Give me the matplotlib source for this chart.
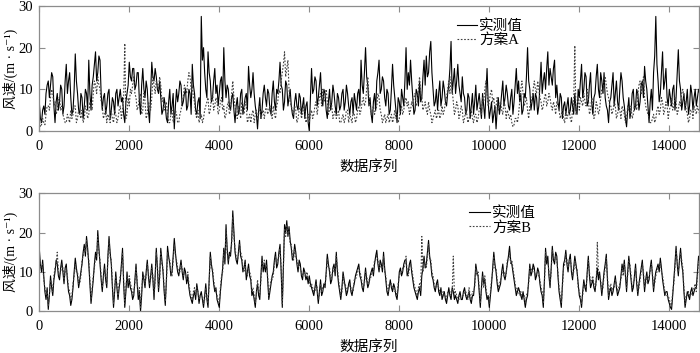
import numpy as np
import matplotlib
matplotlib.use('Agg')
import matplotlib.pyplot as plt

plt.rcParams['font.family'] = ['Liberation Serif', 'Noto Sans CJK SC', 'DejaVu Serif']

# 数据: 每 50 个序列点读一个值 (x = 0, 50, 100, ...)
# 以及两点之间的读数 (x = 25, 75, 125, ...)
passo = 50

medido_a = [
    7, 2, 6, 9, 12, 11, 13, 2, 9, 7, 10, 6, 16, 12, 8, 5, 18.5, 9, 4, 8,
    6, 9, 17, 5, 13, 19, 14, 17, 5, 9, 6, 10, 5, 7, 9, 6, 10, 8, 2, 9,
    16.5, 12, 15, 11, 14, 4, 15, 8, 10, 2, 16.5, 12, 13, 9, 8, 5, 6, 2, 10, 6,
    0.5, 10, 9, 11, 7, 10, 6, 9, 16, 9, 4, 8, 27.5, 20, 10, 19, 12, 8, 15, 11,
    9, 13, 20, 8, 10, 5, 9, 2, 8, 5, 10, 6, 9, 15.5, 8, 14, 6, 0.5, 8, 5,
    11, 6, 9, 4, 12, 5, 9, 16.5, 10, 7, 11, 8, 6, 3, 9, 5, 8, 6, 3, 7,
    0, 15, 10, 12, 8, 14, 6, 9, 3, 10, 7, 9, 4, 8, 6, 10, 7, 9, 4, 8,
    9, 5, 10, 17, 9, 20, 11, 8, 2, 9, 12, 17, 10, 12, 6, 9, 5, 16, 8, 2,
    7, 10, 6, 20, 14, 17, 8, 5, 9, 12, 8, 17, 18, 14, 21.5, 10, 7, 5, 12, 8,
    10, 6, 11, 21.5, 12, 9, 16, 9, 13, 8, 5, 8, 6, 4, 11, 7, 6, 9, 3, 15,
    3, 7, 4, 0.5, 8, 6, 12, 8, 9, 5, 10, 7, 15, 12, 9, 5, 8, 20, 10, 7,
    5, 8, 6, 16.5, 12, 10, 19, 15, 11, 17, 11, 5, 8, 6, 4, 8, 5, 6, 9, 4,
    8, 16, 10, 13, 7, 14, 4, 9, 16, 8, 12, 14, 6, 2, 8, 14, 9, 7, 10, 12,
    6, 1, 8, 5, 10, 6, 9, 7, 12, 15.5, 10, 2, 10, 14, 27.5, 12, 9, 19, 12, 8,
    10, 6, 11, 8, 19.5, 10, 7, 5, 10, 6, 9, 8, 6, 10,
]
medido_a_meio = [
    3, 5, 4, 11, 8, 14, 6, 7, 5, 11, 4, 12, 9, 14, 4, 10, 12, 5, 9, 3,
    10, 5, 9, 11, 16, 12, 18, 9, 8, 4, 9, 3, 8, 4, 10, 8, 7, 4, 7, 11,
    13, 15, 10, 14, 7, 11, 10, 12, 5, 9, 13, 15, 10, 12, 4, 8, 3, 7, 4, 9,
    6, 7, 12, 6, 9, 5, 10, 4, 11, 5, 7, 3, 17, 14, 8, 14, 7, 12, 9, 6,
    12, 7, 12, 11, 6, 8, 5, 6, 4, 9, 4, 8, 5, 11, 10, 9, 4, 5, 3, 9,
    8, 10, 5, 9, 7, 10, 12, 11, 5, 12, 6, 10, 4, 7, 6, 9, 4, 8, 6, 2,
    8, 9, 13, 6, 11, 8, 10, 5, 7, 5, 11, 6, 9, 5, 9, 5, 11, 6, 7, 4,
    7, 9, 6, 11, 14, 13, 6, 4, 7, 5, 14, 9, 13, 8, 10, 4, 10, 11, 5, 8,
    4, 8, 12, 10, 11, 12, 4, 10, 6, 7, 13, 11, 13, 19, 14, 6, 10, 9, 6, 12,
    7, 9, 15, 9, 15, 12, 11, 7, 9, 4, 9, 3, 9, 7, 5, 9, 3, 6, 9, 7,
    5, 2, 6, 5, 4, 9, 6, 11, 6, 8, 4, 11, 9, 7, 4, 9, 13, 12, 5, 9,
    9, 4, 11, 9, 14, 15, 11, 13, 15, 8, 7, 9, 3, 7, 6, 4, 8, 4, 5, 10,
    12, 8, 14, 6, 11, 7, 8, 13, 10, 14, 9, 8, 5, 7, 11, 6, 12, 5, 14, 8,
    3, 5, 3, 9, 5, 10, 5, 11, 8, 12, 6, 7, 5, 18, 16, 7, 14, 10, 15, 6,
    8, 10, 5, 14, 12, 5, 9, 7, 4, 11, 5, 10, 8, 9,
]

plano_a = [
    3, 1.5, 2, 4, 6, 8, 9, 7, 5, 8, 6, 3, 2, 3, 5, 4, 6, 3, 4, 5,
    3, 5, 4, 6, 9, 11, 13, 10, 6, 4, 2, 3, 5, 2, 4, 3, 6, 5, 21, 4,
    6, 9, 13, 8, 6, 9, 5, 7, 4, 6, 8, 11, 12, 10, 11, 8, 6, 4, 2, 5,
    3, 4, 2, 5, 8, 10, 12, 13, 11, 7, 3, 2, 4, 3, 6, 8, 5, 9, 6, 7,
    5, 8, 6, 4, 7, 5, 12, 6, 3, 5, 7, 4, 6, 3, 2, 5, 4, 3, 6, 4,
    3, 6, 5, 4, 6, 3, 7, 9, 14, 19, 15, 10, 6, 4, 5, 3, 6, 4, 5, 3,
    2, 5, 4, 7, 6, 9, 10, 8, 7, 5, 6, 4, 3, 5, 2, 4, 3, 5, 4, 2,
    4, 3, 6, 5, 8, 7, 13, 6, 5, 4, 6, 8, 4, 3, 2, 4, 3, 2, 5, 4,
    3, 6, 5, 8, 7, 5, 6, 9, 7, 13, 8, 6, 5, 7, 4, 3, 5, 4, 3, 6,
    5, 8, 12, 13, 7, 5, 6, 4, 5, 3, 4, 3, 5, 2, 4, 3, 6, 8, 10, 9,
    7, 10, 8, 6, 5, 7, 4, 6, 5, 3, 2, 1.5, 3, 4, 10, 9, 7, 5, 6, 8,
    12, 9, 10, 7, 6, 9, 7, 8, 5, 6, 7, 5, 4, 3, 5, 4, 3, 5, 20.5, 6,
    5, 7, 9, 6, 8, 5, 7, 4, 6, 5, 10, 12, 11, 8, 6, 5, 6, 4, 5, 6,
    4, 3, 5, 6, 4, 7, 9, 12, 11, 8, 5, 3, 2, 4, 3, 6, 5, 7, 5, 6,
    5, 8, 6, 7, 5, 6, 10, 7, 4, 3, 5, 6, 4, 5,
]
plano_a_meio = [
    1, 3, 1.5, 6, 5, 10, 6, 4, 8, 5, 4, 2, 4, 2, 3, 6, 2, 5, 3, 2,
    6, 3, 7, 5, 12, 9, 11, 7, 3, 5, 4, 2, 3, 5, 2, 5, 3, 8, 3, 8,
    10, 11, 9, 5, 8, 4, 9, 3, 7, 5, 13, 9, 11, 13, 7, 5, 7, 2, 4, 2,
    5, 2, 4, 7, 11, 9, 14, 10, 8, 4, 5, 3, 2, 5, 7, 4, 8, 5, 8, 4,
    7, 5, 3, 6, 4, 9, 8, 4, 6, 3, 5, 7, 2, 4, 4, 2, 5, 4, 3, 5,
    5, 4, 6, 3, 4, 6, 10, 12, 16, 13, 17, 7, 5, 6, 2, 5, 3, 6, 2, 4,
    4, 3, 6, 4, 8, 6, 7, 10, 4, 7, 3, 5, 4, 2, 3, 2, 5, 2, 3, 5,
    2, 5, 4, 7, 6, 10, 8, 4, 6, 5, 9, 5, 2, 4, 3, 2, 4, 3, 3, 2,
    5, 4, 7, 6, 4, 7, 8, 6, 10, 9, 5, 7, 4, 5, 2, 4, 3, 5, 4, 4,
    7, 10, 9, 10, 4, 7, 3, 6, 2, 5, 2, 4, 3, 4, 2, 5, 4, 7, 12, 6,
    9, 7, 5, 8, 6, 5, 7, 3, 4, 4, 1, 3, 2, 7, 12, 6, 8, 3, 7, 10,
    10, 12, 8, 5, 8, 6, 9, 6, 7, 4, 6, 3, 5, 2, 3, 5, 2, 7, 4, 8,
    8, 6, 7, 10, 4, 8, 3, 7, 4, 8, 9, 13, 9, 6, 4, 7, 3, 6, 3, 5,
    2, 6, 4, 3, 6, 5, 11, 9, 13, 6, 4, 2, 3, 2, 5, 4, 8, 4, 7, 3,
    6, 5, 8, 4, 7, 9, 8, 5, 2, 5, 3, 5, 6, 4,
]

medido_b = [
    16, 10, 9, 3, 0.5, 9, 4, 10, 12, 8, 13, 7, 12, 5, 1.5, 6, 13.5, 9, 8, 12,
    17, 19, 12, 2, 8, 15, 20.5, 12, 5, 12, 6, 19, 12, 1, 10, 3, 8, 16, 1, 10,
    8, 5, 4, 12, 3, 0, 10, 6, 13, 6, 12, 3, 16, 5, 16, 10, 1.5, 16.5, 12, 10,
    18.5, 12, 9, 13, 8, 10, 9, 4, 2, 5, 7, 2, 5, 1, 7, 1, 15, 10, 5, 3,
    1, 8, 16, 22, 12, 14, 25.5, 15, 12, 18, 13, 11, 8, 12, 8, 5, 1, 7, 3, 14,
    12, 13, 3, 7, 10, 15, 12, 17, 1, 22, 23, 21.5, 16, 14, 15, 10, 12, 8, 10, 9,
    9, 6, 4, 8, 2, 8, 5, 6, 14.5, 10, 8, 12, 15, 7, 3, 10, 6, 5, 8, 4,
    7, 10, 12, 8, 5, 11, 6, 9, 11, 12, 15.5, 10, 12, 15, 8, 4, 8, 5, 6, 3,
    10, 9, 12, 13, 10, 13, 8, 5, 3, 6, 9, 14, 12, 18, 12, 8, 5, 8, 4, 3,
    5, 2, 6, 3, 5, 4, 2, 5, 3, 6, 3, 5, 2, 4, 12, 9, 1, 10, 8, 3,
    1, 7, 15, 10, 5, 7, 12, 8, 12, 16.5, 12, 8, 4, 6, 4, 5, 1, 4, 12, 10,
    11, 9, 10, 5, 1, 16, 14, 6, 16.5, 12, 14, 5, 1, 12, 15.5, 10, 14.5, 8, 14, 10,
    4, 1, 8, 5, 14, 6, 8, 5, 11, 10, 4, 10, 14.5, 3, 6, 5, 9, 4, 6, 12,
    13, 5, 14, 8, 6, 12, 4, 9, 13, 5, 10, 8, 13, 5, 10, 12, 13.5, 8, 4, 5,
    2, 0.5, 8, 16.5, 9, 16, 10, 1, 5, 3, 6, 5, 6, 14,
]
medido_b_meio = [
    12, 13, 5, 6, 4, 6, 8, 13, 9, 11, 10, 11, 8, 4, 3, 10, 11, 6, 10, 15,
    14, 16, 7, 5, 12, 13, 16, 8, 9, 8, 14, 15, 6, 5, 6, 6, 12, 7, 5, 6,
    6, 3, 8, 7, 5, 4, 8, 10, 9, 9, 8, 9, 11, 9, 13, 5, 8, 14, 9, 14,
    15, 10, 11, 10, 11, 7, 6, 3, 4, 3, 5, 4, 3, 4, 3, 8, 12, 7, 6, 2,
    5, 11, 12, 16, 15, 18, 20, 13, 15, 14, 10, 13, 10, 9, 4, 3, 5, 4, 9, 10,
    10, 8, 5, 9, 13, 11, 15, 10, 12, 20, 19, 18, 13, 17, 12, 13, 9, 11, 8, 7,
    7, 5, 6, 5, 5, 4, 7, 10, 12, 7, 11, 9, 10, 5, 6, 8, 4, 7, 5, 6,
    9, 11, 9, 6, 8, 8, 7, 10, 9, 14, 12, 13, 10, 11, 5, 6, 6, 7, 4, 6,
    11, 10, 13, 9, 12, 10, 6, 4, 5, 4, 11, 11, 15, 14, 9, 6, 7, 5, 6, 4,
    3, 4, 4, 6, 3, 3, 4, 3, 5, 4, 4, 3, 4, 7, 10, 5, 6, 7, 5, 4,
    4, 11, 12, 7, 6, 10, 9, 10, 14, 13, 10, 6, 5, 5, 3, 3, 3, 8, 9, 12,
    8, 11, 7, 4, 8, 12, 9, 11, 13, 15, 9, 3, 7, 13, 12, 13, 10, 11, 12, 7,
    3, 5, 6, 10, 9, 7, 6, 8, 8, 7, 7, 12, 8, 5, 4, 7, 6, 5, 9, 10,
    9, 10, 11, 5, 9, 7, 7, 11, 9, 8, 7, 11, 9, 8, 11, 10, 11, 6, 5, 3,
    1, 4, 12, 12, 13, 12, 5, 3, 4, 5, 4, 6, 10, 12,
]

plano_b = [
    14, 11, 8, 4, 1.5, 8, 5, 11, 15, 9, 12, 8, 11, 6, 2.5, 7, 12, 10, 7, 13,
    16, 18, 13, 3, 9, 14, 19, 13, 6, 11, 7, 18, 13, 2, 9, 4, 9, 15, 2, 9,
    9, 6, 5, 11, 4, 1, 9, 7, 12, 7, 11, 4, 15, 6, 15, 11, 2.5, 15, 13, 9,
    17, 13, 10, 12, 9, 9, 10, 5, 3, 6, 6, 3, 4, 2, 6, 2, 14, 11, 6, 4,
    2, 9, 15, 21, 13, 15, 24, 16, 13, 17, 14, 10, 9, 11, 9, 6, 2, 8, 4, 13,
    13, 12, 4, 8, 9, 14, 13, 16, 2, 21, 22, 20.5, 17, 13, 14, 11, 11, 9, 9, 10,
    8, 7, 5, 7, 3, 7, 6, 7, 13.5, 11, 9, 11, 14, 8, 4, 9, 7, 6, 7, 5,
    8, 9, 11, 9, 6, 10, 7, 8, 10, 13, 14.5, 11, 11, 14, 9, 5, 7, 6, 5, 4,
    9, 10, 11, 14, 9, 12, 9, 6, 4, 7, 19, 13, 11, 17, 13, 9, 6, 7, 5, 4,
    4, 3, 5, 4, 14, 5, 3, 4, 4, 5, 4, 6, 3, 5, 11, 10, 2, 9, 9, 4,
    2, 8, 14, 11, 6, 8, 11, 9, 13, 15, 13, 9, 5, 5, 5, 4, 2, 5, 11, 11,
    10, 10, 9, 6, 2, 15, 13, 7, 15.5, 13, 13, 6, 2, 11, 14.5, 11, 13.5, 9, 13, 11,
    5, 2, 7, 6, 13, 7, 9, 6, 17.5, 9, 5, 9, 13.5, 4, 7, 6, 8, 5, 7, 11,
    12, 6, 13, 9, 7, 11, 5, 8, 12, 6, 9, 9, 12, 6, 9, 11, 12.5, 9, 5, 4,
    3, 1.5, 7, 15.5, 10, 15, 11, 2, 4, 4, 5, 6, 5, 13,
]
plano_b_meio = [
    11, 12, 6, 5, 4, 7, 9, 12, 10, 10, 11, 10, 9, 5, 4, 9, 10, 7, 9, 14,
    15, 15, 8, 6, 11, 14, 15, 9, 8, 9, 13, 14, 7, 6, 7, 7, 11, 8, 6, 7,
    7, 4, 7, 8, 6, 5, 9, 9, 10, 8, 9, 8, 12, 8, 12, 6, 7, 13, 10, 13,
    14, 11, 10, 11, 10, 8, 7, 4, 5, 4, 5, 4, 4, 3, 4, 7, 11, 8, 5, 3,
    6, 10, 13, 15, 14, 17, 19, 14, 14, 15, 11, 12, 9, 10, 5, 4, 4, 5, 8, 11,
    11, 9, 6, 8, 12, 12, 14, 11, 11, 19, 20, 17, 14, 16, 13, 12, 10, 10, 9, 8,
    6, 6, 5, 6, 4, 5, 6, 9, 11, 8, 10, 10, 11, 6, 5, 7, 5, 6, 6, 5,
    8, 10, 10, 7, 7, 9, 8, 9, 10, 13, 13, 12, 11, 10, 6, 7, 7, 6, 5, 7,
    10, 11, 12, 10, 11, 11, 7, 5, 6, 5, 10, 12, 14, 13, 10, 7, 6, 6, 5, 5,
    4, 5, 5, 5, 4, 4, 3, 4, 4, 5, 3, 4, 5, 6, 9, 6, 5, 6, 6, 3,
    5, 10, 11, 8, 7, 9, 10, 9, 13, 12, 11, 7, 6, 4, 4, 4, 4, 7, 10, 11,
    9, 10, 8, 5, 7, 13, 10, 10, 14, 14, 10, 4, 6, 12, 13, 12, 11, 10, 11, 6,
    4, 4, 7, 9, 10, 8, 7, 7, 10, 8, 6, 11, 9, 6, 5, 6, 7, 6, 8, 9,
    10, 9, 12, 6, 8, 8, 6, 10, 10, 7, 8, 10, 10, 7, 10, 11, 10, 7, 4, 4,
    2, 5, 11, 13, 12, 13, 6, 4, 5, 4, 5, 7, 9, 11,
]

rotulos = [('实测值', '方案A'), ('实测值', '方案B')]


def intercalar(valores, meio):
    # junta as leituras: x, x+25, x+50, ...
    return np.column_stack([valores, meio]).ravel()


x = np.arange(2 * len(medido_a)) * (passo / 2)

fig = plt.figure(figsize=(7, 3.53), dpi=100)
ax1 = fig.add_axes([0.0561, 0.629, 0.9425, 0.354])
ax2 = fig.add_axes([0.0561, 0.118, 0.9425, 0.335])

cinza = '#8c8c8c'
posicoes_legenda = [(0.638, 0.975), (0.656, 0.445)]
series = [(medido_a, medido_a_meio, plano_a, plano_a_meio),
          (medido_b, medido_b_meio, plano_b, plano_b_meio)]

for ax, (m, m_meio, p, p_meio), (r1, r2), pos in zip([ax1, ax2], series,
                                                    rotulos, posicoes_legenda):
    ax.plot(x, intercalar(m, m_meio), color='black', linewidth=0.8, label=r1)
    ax.plot(x, intercalar(p, p_meio), color='#404040', linewidth=0.8,
            linestyle=(0, (1.5, 1.5)), label=r2)
    ax.set_xlim(0, 14660)
    ax.set_ylim(0, 30)
    ax.set_xticks(np.arange(0, 14001, 2000))
    ax.set_yticks([0, 10, 20, 30])
    ax.tick_params(direction='in', top=True, right=True, length=4, width=0.8,
                   color=cinza, labelsize=10.5)
    ax.tick_params(axis='x', pad=6.5)
    ax.tick_params(axis='y', pad=4.5)
    for s in ax.spines.values():
        s.set_color(cinza)
        s.set_linewidth(0.9)
    ax.set_xlabel('数据序列', fontsize=10.5, labelpad=5)
    ax.set_ylabel('风速/(m · s⁻¹)', fontsize=10)
    ax.yaxis.set_label_coords(-0.032, 0.5)
    ax.legend(loc='upper left', bbox_to_anchor=pos, bbox_transform=fig.transFigure,
              frameon=False, fontsize=10.5, handlelength=1.4, handletextpad=0.15,
              labelspacing=0.05, borderpad=0.2)

fig.savefig('out.png', dpi=100)
